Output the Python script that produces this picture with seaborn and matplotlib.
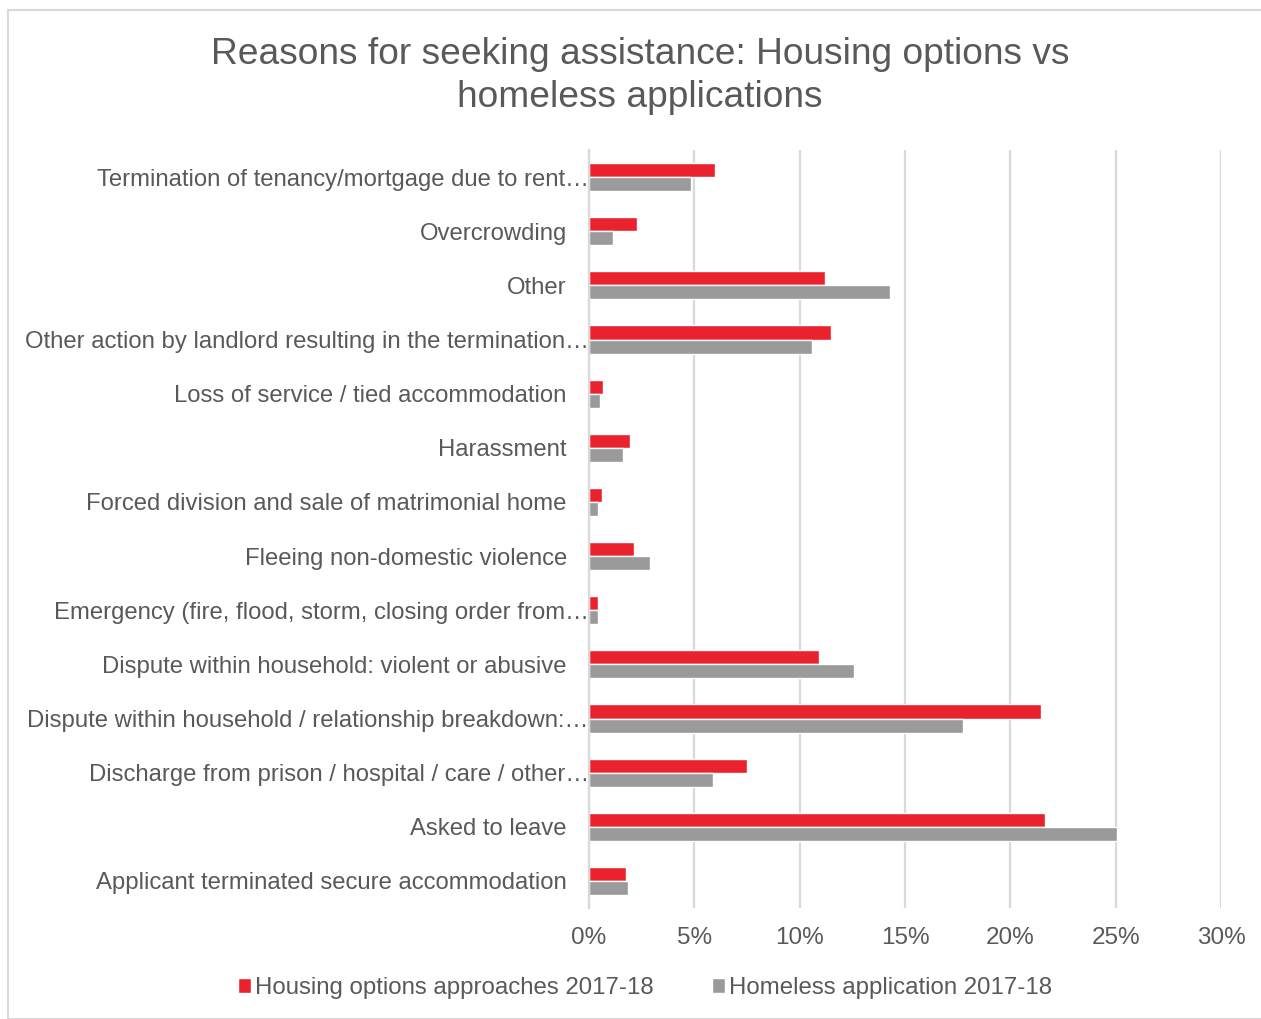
import matplotlib
matplotlib.use("Agg")
import matplotlib.pyplot as plt
import matplotlib.transforms as mtransforms
import seaborn as sns
import pandas as pd
from matplotlib.patches import Rectangle

categories = [
    "Termination of tenancy/mortgage due to rent…",
    "Overcrowding",
    "Other",
    "Other action by landlord resulting in the termination…",
    "Loss of service / tied accommodation",
    "Harassment",
    "Forced division and sale of matrimonial home",
    "Fleeing non-domestic violence",
    "Emergency (fire, flood, storm, closing order from…",
    "Dispute within household: violent or abusive",
    "Dispute within household / relationship breakdown:…",
    "Discharge from prison / hospital / care / other…",
    "Asked to leave",
    "Applicant terminated secure accommodation",
]
housing_options = [6.0, 2.3, 11.2, 11.5, 0.65, 1.96, 0.6, 2.12, 0.41, 10.9, 21.44, 7.5, 21.66, 1.76]
homeless_apps = [4.85, 1.14, 14.3, 10.57, 0.54, 1.63, 0.44, 2.9, 0.44, 12.57, 17.74, 5.89, 25.08, 1.85]
series_names = ["Housing options approaches 2017-18", "Homeless application 2017-18"]
x_ticks = [0, 5, 10, 15, 20, 25, 30]

df = pd.DataFrame({
    "reason": categories * 2,
    "pct": housing_options + homeless_apps,
    "series": [series_names[0]] * len(categories) + [series_names[1]] * len(categories),
})

sns.set_theme(style="white")
plt.rcParams["font.family"] = ["Liberation Sans", "DejaVu Sans"]
text_color = "#595959"

fig = plt.figure(figsize=(12.61, 10.19), dpi=100)
ax = fig.add_axes([589 / 1261, 1 - 908 / 1019, (1221 - 589) / 1261, (908 - 150) / 1019])

sns.barplot(
    data=df, y="reason", x="pct", hue="series", order=categories,
    hue_order=series_names, palette=["#EA222E", "#9A9A9A"],
    orient="h", width=0.52, saturation=1, ax=ax, legend=True,
)

ax.set_xlim(0, 30)
ax.set_xticks(x_ticks)
ax.set_xticklabels([f"{t}%" for t in x_ticks], fontsize=17.5, color=text_color)
ax.tick_params(axis="y", labelsize=17.2, labelcolor=text_color, length=0, pad=16)
ax.tick_params(axis="x", length=0, pad=14)
ax.set_xlabel("")
ax.set_ylabel("")
ax.grid(axis="x", color="#D9D9D9", linewidth=1.6)
ax.set_axisbelow(True)
for side in ["top", "right", "bottom"]:
    ax.spines[side].set_visible(False)
ax.spines["left"].set_color("#D9D9D9")
ax.spines["left"].set_linewidth(1.6)

# Truncated category names run a little further right, up to the axis line
shift = mtransforms.ScaledTranslation(22 / 100, 0, fig.dpi_scale_trans)
for lbl in ax.get_yticklabels():
    if lbl.get_text().endswith("…"):
        lbl.set_transform(lbl.get_transform() + shift)

handles, labels = ax.get_legend_handles_labels()
ax.legend_.remove()
fig.legend(
    handles, labels, loc="center", bbox_to_anchor=(645 / 1261, 1 - 988 / 1019),
    ncol=2, frameon=False, fontsize=17.3, handlelength=0.55, handleheight=0.55,
    handletextpad=0.15, columnspacing=2.45, labelcolor=text_color,
)

fig.suptitle(
    "Reasons for seeking assistance: Housing options vs\nhomeless applications",
    x=640 / 1261, y=1 - 37 / 1019, va="top", fontsize=26.7, color=text_color,
    linespacing=1.28,
)

fig.patches.append(Rectangle(
    (8 / 1261, 0), 1.2, 1 - 10 / 1019, transform=fig.transFigure,
    fill=False, edgecolor="#D9D9D9", linewidth=1.5,
))

fig.savefig("out.png", dpi=100)
